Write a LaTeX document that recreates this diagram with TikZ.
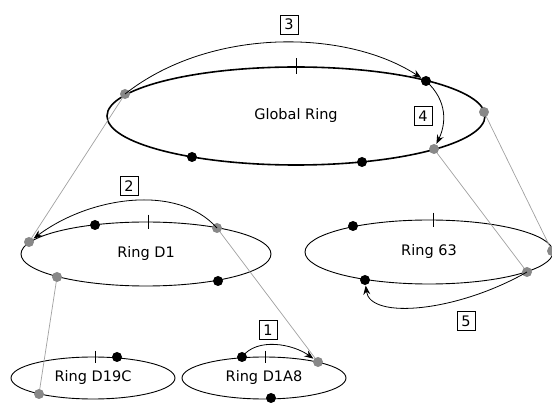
\documentclass[tikz,border=0pt]{standalone}
\usepackage{fontspec}
\setmainfont{DejaVu Sans}
\usetikzlibrary{shapes.geometric,arrows.meta}
\definecolor{dotgray}{HTML}{888888}
\definecolor{linkgray}{HTML}{A0A0A0}
\begin{document}
\begin{tikzpicture}[x=1pt,y=-1pt,
  ring/.style={draw, ellipse, line width=0.9pt, inner sep=0pt, font=\fontsize{14.5}{16}\selectfont},
  bdot/.style={circle, fill=black, inner sep=0pt, minimum size=10pt},
  gdot/.style={circle, fill=dotgray, inner sep=0pt, minimum size=10pt},
  link/.style={draw=linkgray, line width=0.7pt},
  flow/.style={-{Stealth[length=9pt,width=7pt,inset=3pt]}, line width=0.8pt, shorten >=0.5pt},
  tag/.style={draw, line width=0.6pt, inner sep=0pt, minimum width=18pt, minimum height=19pt, font=\fontsize{14.5}{16}\selectfont},
  ticmark/.style={line width=0.8pt}]
\useasboundingbox (0,0) rectangle (552,403);

% rings
\node[ring, line width=1.6pt, minimum width=378pt, minimum height=98pt] (global) at (296,116) {Global Ring};
\node[ring, minimum width=250pt, minimum height=64pt] (d1) at (146,254) {Ring D1};
\node[ring, minimum width=248pt, minimum height=64pt] (r63) at (429,252) {Ring 63};
\node[ring, minimum width=164pt, minimum height=42pt] (d19c) at (93,378) {Ring D19C};
\node[ring, minimum width=164pt, minimum height=42pt] (d1a8) at (264,378) {Ring D1A8};

% ticks
\draw[ticmark] ([yshift=8pt]global.north) -- ([yshift=-8pt]global.north);
\draw[ticmark] ([xshift=2pt,yshift=7pt]d1.north) -- ([xshift=2pt,yshift=-7pt]d1.north);
\draw[ticmark] ([xshift=4pt,yshift=7pt]r63.north) -- ([xshift=4pt,yshift=-7pt]r63.north);
\draw[ticmark] ([xshift=2pt,yshift=6pt]d19c.north) -- ([xshift=2pt,yshift=-6pt]d19c.north);
\draw[ticmark] ([xshift=1pt,yshift=6pt]d1a8.north) -- ([xshift=1pt,yshift=-6pt]d1a8.north);

% points on rings
\coordinate (gL) at (125,94);
\coordinate (gB) at (426,81);
\coordinate (gR) at (484,112);
\coordinate (gLR) at (434,149);
\coordinate (gB1) at (192,157);
\coordinate (gB2) at (362,162);

\coordinate (dL) at (29,242);
\coordinate (dB) at (95,225);
\coordinate (dT) at (217,228);
\coordinate (dLL) at (57,277);
\coordinate (dBR) at (218,281);

\coordinate (sB1) at (353,226);
\coordinate (sB2) at (365,280);
\coordinate (sG1) at (527,272);
\coordinate (sG2) at (552,251);

\coordinate (cB) at (117,357);
\coordinate (cG) at (39,394);

\coordinate (aB1) at (242,357);
\coordinate (aB2) at (271,398);
\coordinate (aG) at (318,362);

% links between levels
\draw[link] (gL) -- (dL);
\draw[link] (gR) -- (sG2);
\draw[link] (gLR) -- (sG1);
\draw[link] (dT) -- (aG);
\draw[link] (dLL) -- (cG);

% dots
\foreach \p in {gB,gB1,gB2,dB,dBR,sB1,sB2,cB,aB1,aB2}
  \node[bdot] (n\p) at (\p) {};
\foreach \p in {gL,gR,gLR,dL,dT,dLL,sG1,sG2,cG,aG}
  \node[gdot] (n\p) at (\p) {};

% flows
\draw[flow] (ngL.center) .. controls +(85,-67) and +(-80,-52) .. (ngB);
\draw[flow] (ngB.center) .. controls +(22,20) and +(12,-25) .. (ngLR);
\draw[flow] (ndT.center) .. controls +(-40,-45) and +(60,-45) .. (ndL);
\draw[flow] (nsG1.center) .. controls +(-70,40) and +(5,40) .. (nsB2);
\draw[flow] (naB1.center) .. controls +(15,-20) and +(-25,-18) .. (naG);

% step tags
\node[tag] (t3) at (289,24.5) {3};
\node[tag] (t4) at (423,116) {4};
\node[tag] (t2) at (129,186) {2};
\node[tag] (t5) at (466,321) {5};
\node[tag] (t1) at (268,330) {1};
\end{tikzpicture}
\end{document}
